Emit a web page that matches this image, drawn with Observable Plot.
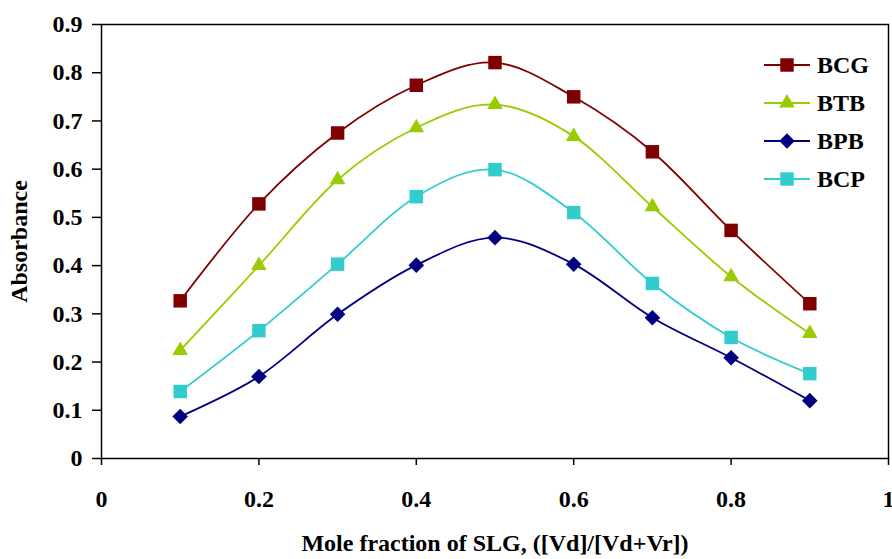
<!DOCTYPE html>
<html>
<head>
<meta charset="utf-8">
<script src="https://cdn.jsdelivr.net/npm/d3@7"></script>
<script src="https://cdn.jsdelivr.net/npm/@observablehq/plot@0.6"></script>
<style>
  html, body { margin: 0; padding: 0; background: #fff; }
  #chart { width: 892px; height: 559px; }
  svg { font-family: "Liberation Serif", "Times New Roman", serif; font-weight: bold; }
</style>
</head>
<body>
<div id="chart"></div>
<script>
const xs  = [0.1, 0.2, 0.3, 0.4, 0.5, 0.6, 0.7, 0.8, 0.9];
const bcg = [0.327, 0.528, 0.675, 0.774, 0.821, 0.750, 0.636, 0.473, 0.321];
const btb = [0.224, 0.400, 0.578, 0.686, 0.734, 0.668, 0.522, 0.377, 0.259];
const bpb = [0.087, 0.170, 0.299, 0.401, 0.458, 0.403, 0.292, 0.209, 0.120];
const bcp = [0.139, 0.265, 0.403, 0.543, 0.599, 0.510, 0.363, 0.251, 0.176];
const seriesNames = ["BCG", "BTB", "BPB", "BCP"];
const seriesColors = ["#800000", "#99CC00", "#000080", "#33CCCC"];
const xTicks = [0, 0.2, 0.4, 0.6, 0.8, 1];
const yTicks = [0, 0.1, 0.2, 0.3, 0.4, 0.5, 0.6, 0.7, 0.8, 0.9];

const values = [bcg, btb, bpb, bcp];
const symbols = ["square", "triangle", "diamond2", "square"];
const radii = [7.6, 5.8, 7.0, 7.6];
const table = s => xs.map((x, i) => ({x, y: values[s][i], series: seriesNames[s]}));

const marks = [Plot.frame({stroke: "black", strokeWidth: 1.5})];
seriesNames.forEach((name, s) => {
  marks.push(Plot.line(table(s), {x: "x", y: "y", stroke: seriesColors[s], strokeWidth: 1.8, curve: "cardinal"}));
});
seriesNames.forEach((name, s) => {
  marks.push(Plot.dot(table(s), {x: "x", y: "y", symbol: () => symbols[s], r: radii[s], fill: seriesColors[s], stroke: "none"}));
});
marks.push(Plot.axisX({ticks: xTicks, tickFormat: d => String(d), tickSize: 7, tickPadding: 24, fontSize: 24,
  label: "Mole fraction of SLG, ([Vd]/[Vd+Vr])", labelAnchor: "center", labelArrow: "none", labelOffset: 92, strokeWidth: 1.5}));
marks.push(Plot.axisY({ticks: yTicks, tickFormat: d => String(d), tickSize: 9, tickPadding: 10, fontSize: 24,
  label: "Absorbance", labelAnchor: "center", labelArrow: "none", labelOffset: 92, strokeWidth: 1.5}));

const chart = Plot.plot({
  width: 892,
  height: 559,
  marginLeft: 101,
  marginRight: 4,
  marginTop: 24,
  marginBottom: 101,
  style: {fontFamily: "Liberation Serif, serif", fontWeight: "bold", fontSize: "24px", color: "black", background: "white", overflow: "visible"},
  x: {domain: [0, 1]},
  y: {domain: [0, 0.9]},
  symbol: {type: "identity"},
  marks
});
document.getElementById("chart").appendChild(chart);

// legend
const svg = d3.select(chart);
const lg = svg.append("g").attr("transform", "translate(764,65)");
seriesNames.forEach((name, s) => {
  const g = lg.append("g").attr("transform", `translate(0,${s * 38})`);
  g.append("line").attr("x1", 0).attr("x2", 46).attr("y1", 0).attr("y2", 0)
    .attr("stroke", seriesColors[s]).attr("stroke-width", 1.8);
  const sym = {square: d3.symbolSquare, triangle: d3.symbolTriangle, diamond2: d3.symbolDiamond2}[symbols[s]];
  g.append("path").attr("transform", "translate(23,0)")
    .attr("d", d3.symbol(sym, Math.PI * radii[s] * radii[s])())
    .attr("fill", seriesColors[s]);
  g.append("text").attr("x", 53).attr("y", 0).attr("dy", "0.34em")
    .attr("text-anchor", "start")
    .style("font-size", "24px").style("font-weight", "bold").attr("fill", "black").text(name);
});
</script>
</body>
</html>
